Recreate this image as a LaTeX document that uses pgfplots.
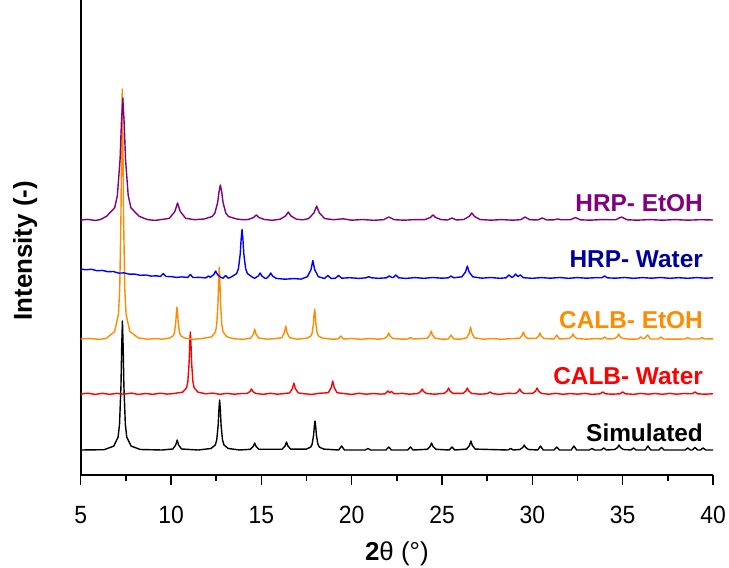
\documentclass[border=0pt]{standalone}
\usepackage{fontspec}
\setmainfont{Liberation Sans}
\usepackage{pgfplots}
\pgfplotsset{compat=1.18}
\definecolor{hrpetoh}{HTML}{800080}
\definecolor{hrpwater}{HTML}{0000FF}
\definecolor{hrpwatertxt}{HTML}{000099}
\definecolor{calbetoh}{HTML}{FF8C00}
\definecolor{calbwater}{HTML}{FF0000}

\begin{document}
\begin{tikzpicture}
\begin{axis}[
  scale only axis, width=632.3bp, height=475bp,
  at={(80.7bp,93bp)}, anchor=south west,
  xmin=5, xmax=40, ymin=15, ymax=490,
  axis x line*=bottom, axis y line*=left,
  axis line style={line width=1.6bp, black},
  ytick=\empty,
  xtick={5,10,...,40}, minor xtick={7.5,12.5,...,37.5},
  tick align=outside, major tick length=10bp, minor tick length=6bp,
  every tick/.style={black, line width=1.5bp},
  /pgf/number format/assume math mode=true,
  xticklabel style={font=\fontsize{25}{25}\selectfont, xscale=0.92, anchor=center, yshift=-30bp},
  xlabel={\textbf{2}θ (°)},
  ylabel={\textbf{Intensity (-)}},
  xlabel style={font=\fontsize{26}{26}\selectfont, at={(axis description cs:0.5,-0.166)}, anchor=center},
  ylabel style={font=\fontsize{26}{26}\selectfont, at={(axis description cs:-0.088,0.472)}, anchor=center},
  clip=false,
  every axis plot/.append style={line width=1.4bp, line join=round},
]
% Simulated
\addplot[black] coordinates {
(5,40) (6.3,40.3) (6.83,43.9) (7.07,52.9) (7.15,65.8) (7.23,104.5) (7.27,143.2) (7.31,169) (7.35,143.2) (7.39,104.5) (7.47,65.8) (7.55,52.9) (7.79,43.9) (8.3,40.5) (9.5,40) (10.1,41) (10.26,45) (10.34,50) (10.42,45) (10.58,41) (11.5,40) (12.21,41.5) (12.45,45) (12.53,50) (12.61,65) (12.65,80) (12.69,90) (12.73,80) (12.77,65) (12.85,50) (12.93,45) (13.17,41.5) (13.8,40) (14.39,40.7) (14.55,43.5) (14.63,47) (14.71,43.5) (14.87,40.7) (16.15,40.8) (16.31,44) (16.39,48) (16.47,44) (16.63,40.8) (17.49,40.9) (17.73,42.9) (17.81,45.8) (17.89,54.5) (17.93,63.2) (17.97,69) (18.01,63.2) (18.05,54.5) (18.13,45.8) (18.21,42.9) (18.45,40.9) (19.28,40) (19.44,44) (19.6,40) (20.75,40) (20.9,41.5) (21.05,40) (21.9,40) (22.05,43) (22.2,40) (23.1,40) (23.25,43) (23.4,40) (24.18,40.7) (24.34,43.5) (24.42,47) (24.5,43.5) (24.66,40.7) (25.4,40) (25.55,43) (25.7,40) (26.36,40.9) (26.52,44.5) (26.6,49) (26.68,44.5) (26.84,40.9) (28.65,40) (28.8,41.5) (28.95,40) (29.31,40.5) (29.47,42.5) (29.55,45) (29.63,42.5) (29.79,40.5) (30.3,40) (30.45,44) (30.6,40) (31.2,40) (31.35,43) (31.5,40) (32.15,40) (32.3,44) (32.45,40) (33.15,40) (33.3,41.5) (33.45,40) (33.8,40) (33.95,42) (34.1,40) (34.56,40.5) (34.72,42.5) (34.8,45) (34.88,42.5) (35.04,40.5) (35.45,40) (35.6,42) (35.75,40) (36.25,40) (36.4,44) (36.55,40) (37.0,40) (37.15,42.5) (37.3,40) (38.45,40) (38.6,42) (38.75,40) (38.85,40) (39.0,42.5) (39.15,40) (39.3,40) (39.45,42) (39.6,40) (40,40)
};
% CALB- Water
\addplot[calbwater] coordinates {
(5,96) (5.4,96.8) (5.8,95.6) (6.2,96.7) (6.6,95.7) (7.0,96.6) (7.4,95.8) (7.8,96.9) (8.2,95.6) (8.6,96.5) (9.0,95.7) (9.4,96.8) (9.8,95.9) (10.2,96.6) (10.65,97.9) (10.86,102.2) (10.93,108.4) (11.0,127) (11.035,145.6) (11.07,158) (11.105,145.6) (11.14,127) (11.21,108.4) (11.28,102.2) (11.49,97.9) (11.9,96.2) (12.3,96.9) (12.7,95.7) (13.1,96.6) (13.5,95.8) (13.9,96.5) (14.21,96.5) (14.37,98.5) (14.45,101) (14.53,98.5) (14.69,96.5) (15.1,95.7) (15.5,96.7) (15.9,95.8) (16.3,96.5) (16.56,97.1) (16.72,101.5) (16.8,107) (16.88,101.5) (17.04,97.1) (17.4,96.2) (17.8,95.6) (18.2,96.7) (18.71,97.3) (18.87,102.5) (18.95,109) (19.03,102.5) (19.19,97.3) (19.6,96.4) (20.0,95.6) (20.4,96.7) (20.8,95.8) (21.2,96.5) (21.6,95.9) (21.85,96.2) (22.0,99) (22.1,97.2) (22.2,98.5) (22.35,96.2) (22.8,96.6) (23.2,95.8) (23.66,96.5) (23.82,98.5) (23.9,101) (23.98,98.5) (24.14,96.5) (24.6,95.8) (25.0,96.5) (25.12,96.6) (25.28,99) (25.36,102) (25.44,99) (25.6,96.6) (26.16,96.6) (26.32,99) (26.4,102) (26.48,99) (26.64,96.6) (27.1,95.8) (27.5,96.3) (27.66,98) (27.82,96.3) (28.2,95.7) (28.6,96.6) (29.06,96.5) (29.22,98.5) (29.3,101) (29.38,98.5) (29.54,96.5) (30.02,96.6) (30.18,99) (30.26,102) (30.34,99) (30.5,96.6) (30.9,95.8) (31.3,96.6) (31.7,95.7) (32.1,96.5) (32.5,95.8) (32.9,96.6) (33.3,95.7) (33.75,96.2) (33.9,98) (34.05,96.2) (34.4,95.8) (34.85,96.2) (35.0,98) (35.15,96.2) (35.6,95.7) (36.0,96.6) (36.4,95.8) (36.8,96.5) (37.2,95.7) (37.6,96.6) (38.0,95.8) (38.4,96.5) (38.85,96.2) (39.0,98) (39.15,96.2) (39.6,95.8) (40,96.3)
};
% CALB- EtOH
\addplot[calbetoh] coordinates {
(5,151) (5.5,151.6) (6.0,150.6) (6.4,151.4) (6.88,158.5) (7.09,176) (7.16,201) (7.23,276) (7.265,351) (7.3,401) (7.335,351) (7.37,276) (7.44,201) (7.51,176) (7.72,158.5) (8.2,152) (8.7,150.8) (9.2,151.5) (9.5,150.7) (9.91,152) (10.12,154.2) (10.19,157.4) (10.26,167) (10.295,176.6) (10.33,183) (10.365,176.6) (10.4,167) (10.47,157.4) (10.54,154.2) (10.75,152) (11.2,150.7) (11.7,151.4) (12.25,153.2) (12.46,158.2) (12.53,165.4) (12.6,187) (12.635,208.6) (12.67,223) (12.705,208.6) (12.74,187) (12.81,165.4) (12.88,158.2) (13.09,153.2) (13.5,151.2) (14.0,150.7) (14.42,152) (14.56,156) (14.63,161) (14.7,156) (14.84,152) (15.3,150.8) (15.8,151.5) (16.14,152.3) (16.28,157.5) (16.35,164) (16.42,157.5) (16.56,152.3) (17.0,150.8) (17.53,151.9) (17.74,154) (17.81,157) (17.88,166) (17.915,175) (17.95,181) (17.985,175) (18.02,166) (18.09,157) (18.16,154) (18.37,151.9) (18.9,150.8) (19.25,151) (19.4,154) (19.55,151) (20.0,151.5) (20.5,150.7) (21.0,151.4) (21.5,150.8) (21.83,151.6) (21.98,154) (22.05,157) (22.12,154) (22.27,151.6) (22.8,150.8) (23.1,151) (23.25,152.5) (23.4,151) (23.8,151.4) (24.19,151.8) (24.33,155) (24.4,159) (24.47,155) (24.61,151.8) (25.0,150.8) (25.35,151) (25.5,155) (25.65,151) (26.0,150.8) (26.37,152.2) (26.51,157) (26.58,163) (26.65,157) (26.79,152.2) (27.3,150.8) (27.8,151.4) (28.3,150.7) (28.8,151.4) (29.29,151.7) (29.43,154.5) (29.5,158) (29.57,154.5) (29.71,151.7) (30.21,151.6) (30.35,154) (30.42,157) (30.49,154) (30.63,151.6) (31.2,151) (31.35,155) (31.5,151) (32.04,151.5) (32.18,153.5) (32.25,156) (32.32,153.5) (32.46,151.5) (33.0,150.8) (33.5,151.4) (33.85,151) (34.0,153) (34.15,151) (34.57,151.5) (34.71,153.5) (34.78,156) (34.85,153.5) (34.99,151.5) (35.4,150.8) (35.85,151) (36.0,153) (36.1,151.5) (36.2,151.5) (36.38,155) (36.53,151) (36.97,151) (37.12,153) (37.27,151) (37.8,150.8) (38.45,151) (38.6,152.5) (38.75,151) (39.25,151) (39.4,152.5) (39.55,151) (40,151.2)
};
% HRP- Water
\addplot[hrpwater] coordinates {
(5,221) (5.3,220.2) (5.6,220.8) (5.9,219.2) (6.2,219.6) (6.5,218.3) (6.8,218.5) (7.1,216.9) (7.4,217.1) (7.7,215.8) (8.0,215.9) (8.3,214.7) (8.6,215.0) (8.9,213.9) (9.2,214.2) (9.42,213.5) (9.57,216.5) (9.72,213.5) (10.0,213.4) (10.3,212.6) (10.6,213.1) (10.92,212.5) (11.07,215.5) (11.22,212.5) (11.6,212.6) (11.92,212.1) (12.07,214) (12.17,212.7) (12.37,215.5) (12.47,219) (12.57,215.5) (12.77,212.5) (12.87,211.8) (13.02,214.5) (13.17,211.8) (13.33,213) (13.63,216.4) (13.73,221.3) (13.83,236) (13.88,250.7) (13.93,260.5) (13.98,250.7) (14.03,236) (14.13,221.3) (14.23,216.4) (14.53,212.5) (14.63,211.8) (14.83,214) (14.93,217) (15.03,214) (15.2,211.7) (15.3,211.8) (15.42,214) (15.52,217) (15.62,214) (15.82,211.6) (16.3,210.8) (16.8,211.4) (17.2,210.9) (17.55,213.3) (17.75,220.5) (17.85,229.5) (17.95,220.5) (18.15,213.3) (18.5,211.5) (18.68,214.5) (18.86,211.5) (19.1,211.8) (19.27,214.5) (19.45,211.8) (19.9,212.3) (20.4,211.6) (20.8,212.2) (20.94,213.3) (21.1,212.2) (21.5,211.7) (21.93,212.2) (22.08,214) (22.23,212.5) (22.3,212.5) (22.45,215) (22.6,212.2) (23.0,211.6) (23.5,212.4) (24.0,211.7) (24.5,212.5) (25.0,211.8) (25.35,212.2) (25.5,214) (25.65,212.2) (26.1,213.2) (26.3,218) (26.4,224) (26.5,218) (26.7,213.2) (27.2,211.8) (27.7,212.5) (28.2,211.7) (28.55,212.2) (28.7,215) (28.85,212.8) (28.95,213.2) (29.07,216) (29.2,213.5) (29.34,215) (29.5,212.3) (30.0,211.7) (30.5,212.4) (31.0,211.8) (31.5,212.5) (32.0,211.7) (32.5,212.4) (33.0,211.8) (33.5,212.3) (33.85,212.2) (34.0,214) (34.15,212.2) (34.6,211.8) (35.1,212.5) (35.6,211.7) (36.1,212.4) (36.6,211.8) (37.1,212.5) (37.6,211.7) (38.1,212.3) (38.6,211.7) (39.1,212.4) (39.6,211.8) (40,212.2)
};
% HRP- EtOH
\addplot[hrpetoh] coordinates {
(5,270) (5.4,270.6) (5.8,269.5) (6.1,270.5) (6.43,273.7) (6.88,282.2) (7.03,294.4) (7.18,331) (7.255,367.6) (7.33,392) (7.405,367.6) (7.48,331) (7.63,294.4) (7.78,282.2) (8.23,273.7) (8.7,270.4) (9.1,269.6) (9.5,270.5) (9.91,271.7) (10.21,278.5) (10.36,287) (10.51,278.5) (10.81,271.7) (11.3,270.3) (11.83,271) (12.28,273.5) (12.43,277) (12.58,287.5) (12.655,298) (12.73,305) (12.805,298) (12.88,287.5) (13.03,277) (13.18,273.5) (13.63,271) (14.0,270.2) (14.27,270.5) (14.57,272.5) (14.72,275) (14.87,272.5) (15.17,270.5) (15.6,269.7) (16.04,270.8) (16.34,274) (16.49,278) (16.64,274) (16.94,270.8) (17.3,270.2) (17.61,271.4) (17.91,277) (18.06,284) (18.21,277) (18.51,271.4) (19.0,270.3) (19.52,271.2) (20.0,269.8) (20.6,270.5) (21.2,269.7) (21.76,270.3) (22.06,273) (22.36,270.3) (22.9,269.8) (23.5,270.4) (24.05,270.4) (24.35,272.5) (24.5,275) (24.65,272.5) (24.95,270.4) (25.3,270) (25.55,272) (25.8,270) (26.2,270.5) (26.5,273.5) (26.65,277) (26.8,273.5) (27.1,270.5) (27.7,269.8) (28.3,270.4) (28.9,269.8) (29.35,270.3) (29.6,273) (29.85,270.3) (30.3,270) (30.55,272) (30.8,270) (31.2,270.2) (31.4,271) (31.6,270.2) (32.1,270.2) (32.39,272.5) (32.65,270.2) (33.2,269.8) (33.8,270.4) (34.6,270.2) (34.93,273) (35.25,270.2) (35.8,269.8) (36.5,270.4) (37.2,269.8) (37.9,270.4) (38.6,269.8) (39.3,270.3) (40,270)
};
\begin{scope}[every node/.style={anchor=east, inner sep=0pt, font=\bfseries\fontsize{24.5}{24.5}\selectfont}]
\node[text=hrpetoh] at (axis cs:39.45,286.7) {HRP- EtOH};
\node[text=hrpwatertxt] at (axis cs:39.45,230.7) {HRP- Water};
\node[text=calbetoh] at (axis cs:39.45,170) {CALB- EtOH};
\node[text=calbwater] at (axis cs:39.45,113.5) {CALB- Water};
\node[text=black] at (axis cs:39.45,57) {Simulated};
\end{scope}
\end{axis}
\pgfresetboundingbox
\useasboundingbox (0,0) rectangle (729bp,568bp);
\end{tikzpicture}
\end{document}
